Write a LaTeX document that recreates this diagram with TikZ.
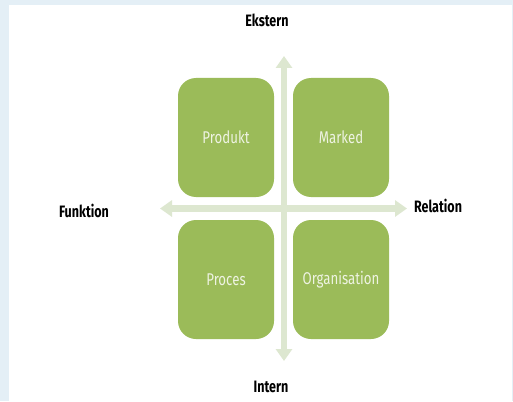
\documentclass[tikz,border=0pt]{standalone}
\usepackage{fontspec}
\usetikzlibrary{arrows.meta,positioning}
\newfontfamily\labelfont[FakeStretch=0.76]{Fira Sans Bold}
\newfontfamily\boxfont[FakeStretch=0.78]{Fira Sans}
\definecolor{boxgreen}{RGB}{155,187,89}
\definecolor{axisgreen}{RGB}{221,231,208}
\definecolor{framebg}{RGB}{228,239,246}
\definecolor{boxtext}{RGB}{238,243,226}

\tikzset{
  field/.style={fill=boxgreen, rounded corners=18pt, minimum width=96pt, minimum height=119pt,
    text=boxtext, font=\boxfont\fontsize{17}{20}\selectfont, inner sep=0pt},
  axislabel/.style={font=\labelfont\fontsize{16.5}{18}\selectfont, text=black, inner sep=0pt},
  axis/.style={axisgreen, line width=6.5pt,
    {Triangle[width=16pt,length=12pt]}-{Triangle[width=16pt,length=12pt]}}
}

\begin{document}
\begin{tikzpicture}[x=1pt,y=-1pt]
\useasboundingbox (0,0) rectangle (513,401);
\fill[framebg] (0,0) rectangle (513,401);
\fill[white] (9,5) rectangle (512,401);

\node[field] (produkt) at (226,137.5) {Produkt};
\node[field] (marked) at (341,137.5) {Marked};
\node[field] (proces) at (226,279.5) {Proces};
\node[field] (organisation) at (341,279.5) {Organisation};

\coordinate (top) at (284,56);
\coordinate (bottom) at (284,361);
\coordinate (left) at (160,208.5);
\coordinate (right) at (407,208.5);

\draw[axis] (bottom) -- (top);
\draw[axis] (left) -- (right);

\node[axislabel] (ekstern) at (267,20) {Ekstern};
\node[axislabel] (intern) at (271,387) {Intern};
\node[axislabel] (funktion) at (84,211) {Funktion};
\node[axislabel] (relation) at (438,206) {Relation};

\end{tikzpicture}
\end{document}
